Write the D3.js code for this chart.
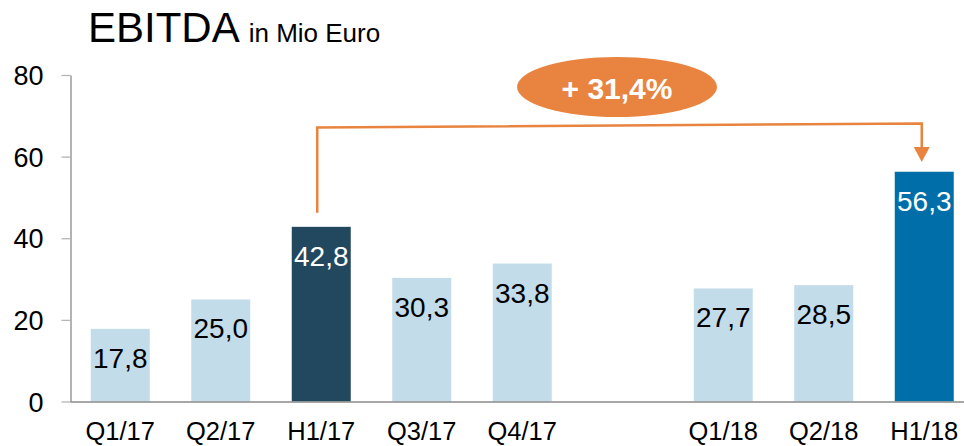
<!DOCTYPE html>
<html>
<head>
<meta charset="utf-8">
<script src="https://cdn.jsdelivr.net/npm/d3@7"></script>
<style>
  body { margin: 0; background: #fff; }
  svg { display: block; font-family: "Liberation Sans", Arial, sans-serif; }
</style>
</head>
<body>
<svg id="chart" width="964" height="446"></svg>
<script>
// data
const categories = ["Q1/17", "Q2/17", "H1/17", "Q3/17", "Q4/17", "gap", "Q1/18", "Q2/18", "H1/18"];
const values = [17.8, 25.0, 42.8, 30.3, 33.8, null, 27.7, 28.5, 56.3];
const valueLabels = ["17,8", "25,0", "42,8", "30,3", "33,8", "", "27,7", "28,5", "56,3"];
const yTicks = [0, 20, 40, 60, 80];
const growthLabel = "+ 31,4%";
const growthFrom = "H1/17";
const growthTo = "H1/18";

const barColor = d => d === "H1/17" ? "#22485f" : d === "H1/18" ? "#006ea9" : "#c3dcea";
const textColor = d => (d === "H1/17" || d === "H1/18") ? "#fff" : "#000";
const orange = "#e8843f";

const svg = d3.select("#chart");

const x = d3.scaleBand()
  .domain(categories)
  .range([70, 974.5])
  .paddingInner(0.413)
  .paddingOuter(0.2065);

const y = d3.scaleLinear()
  .domain([0, 80])
  .range([401.5, 75]);

// title
const title = svg.append("text").attr("x", 88).attr("y", 41.5).attr("fill", "#000");
title.append("tspan").attr("font-size", 42).text("EBITDA");
title.append("tspan").attr("font-size", 26).attr("dx", 9).text("in Mio Euro");

// y axis
const yAxis = svg.append("g")
  .attr("transform", "translate(70.5,0)")
  .call(d3.axisLeft(y).tickValues(yTicks).tickSize(9).tickPadding(18).tickSizeOuter(0));
yAxis.select(".domain").attr("stroke", "#8a8a8a").attr("stroke-width", 1.3);
yAxis.selectAll(".tick line").attr("stroke", "#b5b5b5").attr("stroke-width", 1.3);
yAxis.selectAll(".tick text")
  .attr("font-size", 27)
  .attr("fill", "#000")
  .attr("font-family", "Liberation Sans, Arial, sans-serif")
  .attr("dy", "0.36em");

// bars
const bars = categories.map((c, i) => ({ cat: c, value: values[i], label: valueLabels[i] }))
  .filter(d => d.value !== null);

svg.append("g").selectAll("rect")
  .data(bars)
  .join("rect")
  .attr("x", d => x(d.cat))
  .attr("y", d => y(d.value))
  .attr("width", x.bandwidth())
  .attr("height", d => y(0) - y(d.value))
  .attr("fill", d => barColor(d.cat));

svg.append("g").selectAll("text")
  .data(bars)
  .join("text")
  .attr("x", d => x(d.cat) + x.bandwidth() / 2)
  .attr("y", d => y(d.value) + 39)
  .attr("text-anchor", "middle")
  .attr("font-size", 28)
  .attr("fill", d => textColor(d.cat))
  .text(d => d.label);

// x axis
const xAxis = svg.append("g")
  .attr("transform", "translate(0,401.5)")
  .call(d3.axisBottom(x).tickSize(0).tickSizeOuter(0));
xAxis.select(".domain").attr("stroke", "#8a8a8a").attr("stroke-width", 1.3);
xAxis.selectAll(".tick").filter(d => d === "gap").remove();
xAxis.selectAll(".tick text")
  .attr("font-size", 25.5)
  .attr("fill", "#000")
  .attr("font-family", "Liberation Sans, Arial, sans-serif")
  .attr("y", 38)
  .attr("dy", 0);

// growth connector
const x0 = x(growthFrom) + x.bandwidth() / 2 - 4;
const x1 = x(growthTo) + x.bandwidth() / 2 - 2.5;
const topL = 127.5, topR = 123.5;
svg.append("path")
  .attr("d", `M${x0},${y(values[categories.indexOf(growthFrom)]) - 14}V${topL}L${x1},${topR}V147`)
  .attr("fill", "none")
  .attr("stroke", orange)
  .attr("stroke-width", 2.5);
svg.append("path")
  .attr("d", `M${x1 - 8},147L${x1 + 8},147L${x1},162Z`)
  .attr("fill", orange);

svg.append("ellipse")
  .attr("cx", 617).attr("cy", 87)
  .attr("rx", 100).attr("ry", 30)
  .attr("fill", orange);
svg.append("text")
  .attr("x", 617).attr("y", 98.5)
  .attr("text-anchor", "middle")
  .attr("font-size", 30)
  .attr("font-weight", "bold")
  .attr("fill", "#fff")
  .text(growthLabel);
</script>
</body>
</html>
